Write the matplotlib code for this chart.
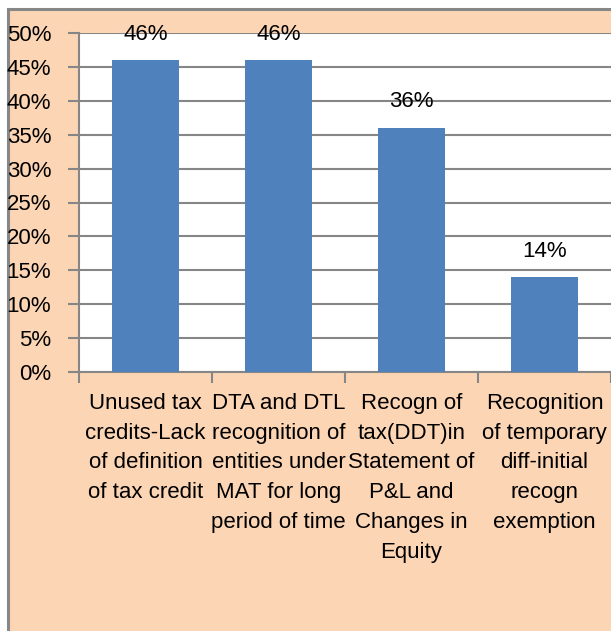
import matplotlib.pyplot as plt
from matplotlib.patches import Rectangle
from matplotlib.ticker import FuncFormatter

categories = [
    "Unused tax\ncredits-Lack\nof definition\nof tax credit",
    "DTA and DTL\nrecognition of\nentities under\nMAT for long\nperiod of time",
    "Recogn of\ntax(DDT)in\nStatement of\nP&L and\nChanges in\nEquity",
    "Recognition\nof temporary\ndiff-initial\nrecogn\nexemption",
]
values = [0.46, 0.46, 0.36, 0.14]
y_ticks = [0.0, 0.05, 0.10, 0.15, 0.20, 0.25, 0.30, 0.35, 0.40, 0.45, 0.50]

plt.rcParams["font.family"] = ["Liberation Sans", "DejaVu Sans"]
FS = 16

W, H = 611, 631
fig = plt.figure(figsize=(W / 100, H / 100), dpi=100)
fig.patch.set_facecolor("white")

# peach chart area with grey frame
fig.patches.append(Rectangle((8 / W, -0.1), 1.2, 1.1 - 9 / H, transform=fig.transFigure,
                             facecolor="#FCD5B5", edgecolor="#878787", linewidth=2.2,
                             zorder=0))

ax = fig.add_axes([79 / W, 1 - 372 / H, 1 - 79 / W, 339 / H])
ax.set_facecolor("white")
ax.set_zorder(1)

x = list(range(len(values)))
bars = ax.bar(x, values, width=0.5, color="#4F81BD", zorder=3)

for b, v in zip(bars, values):
    ax.annotate(f"{v * 100:.0f}%", (b.get_x() + b.get_width() / 2, v),
                xytext=(0, 26), textcoords="offset pixels",
                ha="center", va="center", fontsize=FS, color="black", zorder=4)

ax.set_xlim(-0.5, len(values) - 0.5)
ax.set_ylim(0, 0.5)
ax.set_yticks(y_ticks)
ax.yaxis.set_major_formatter(FuncFormatter(lambda v, p: f"{v * 100:.0f}%"))
ax.yaxis.grid(True, color="#868686", linewidth=1.5, zorder=0)
ax.set_axisbelow(True)

ax.set_xticks(x)
ax.set_xticklabels(categories, fontsize=FS, linespacing=1.55)
ax.set_xticks([i - 0.5 for i in range(len(values) + 1)], minor=True)
ax.tick_params(axis="x", which="major", length=0, pad=15)
ax.tick_params(axis="x", which="minor", length=8, width=1.5, color="#868686")
ax.tick_params(axis="y", length=8, width=1.5, color="#868686", labelsize=FS, pad=12)

for s in ("top", "right"):
    ax.spines[s].set_visible(False)
for s in ("left", "bottom"):
    ax.spines[s].set_color("#868686")
    ax.spines[s].set_linewidth(1.5)

fig.savefig("out.png", dpi=100, facecolor=fig.get_facecolor())
